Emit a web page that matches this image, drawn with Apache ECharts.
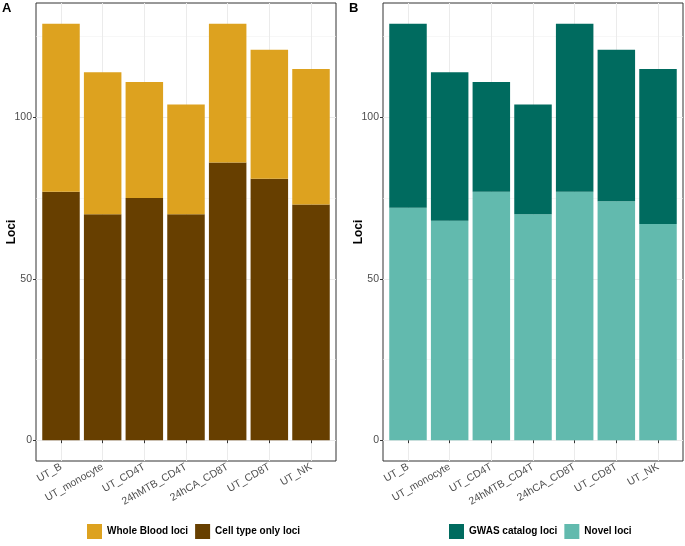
<!DOCTYPE html>
<html>
<head>
<meta charset="utf-8">
<script src="https://cdn.jsdelivr.net/npm/echarts@6/dist/echarts.min.js"></script>
<style>html,body{margin:0;padding:0;background:#fff}#c{width:685px;height:546px}</style>
</head>
<body>
<div id="c"></div>
<script>
const categories = ['UT_B','UT_monocyte','UT_CD4T','24hMTB_CD4T','24hCA_CD8T','UT_CD8T','UT_NK'];
const cellTypeOnly = [77, 70, 75, 70, 86, 81, 73];
const wholeBlood = [52, 44, 36, 34, 43, 40, 42];
const novel = [72, 68, 77, 70, 77, 74, 67];
const gwasCatalog = [57, 46, 34, 34, 52, 47, 48];
const yMajorTicks = [0, 50, 100];
const yMinorTicks = [25, 75, 125];
const catPositions = categories.map((c, i) => i + 1);

const FONT = 'Liberation Sans, Arial, sans-serif';
const yMin = -6.45, yMax = 135.45;
const xMin = 0.4, xMax = 7.6;
const panels = [{left: 36, width: 300}, {left: 383, width: 300}];
const TOP = 3, BOTTOM = 85;

const grids = [], xAxes = [], yAxes = [];
// outer frames (axes, gridlines, labels)
panels.forEach((p, i) => {
  grids.push({left: p.left, width: p.width, top: TOP, bottom: BOTTOM, show: true,
    borderColor: '#333', borderWidth: 1, backgroundColor: '#fff'});
  xAxes.push({
    type: 'value', gridIndex: i, min: xMin, max: xMax,
    axisLine: {show: false},
    axisTick: {show: true, length: 3, lineStyle: {color: '#333'}, customValues: catPositions},
    axisLabel: {rotate: 30, color: '#4d4d4d', fontFamily: FONT, fontSize: 10.5, margin: 5,
      customValues: catPositions, formatter: v => categories[Math.round(v) - 1] || ''},
    splitLine: {show: true, lineStyle: {color: '#ebebeb', width: 1}}
  });
  yAxes.push({
    type: 'value', gridIndex: i, min: yMin, max: yMax,
    name: 'Loci', nameLocation: 'middle', nameGap: 18, nameMoveOverlap: false,
    nameTextStyle: {fontFamily: FONT, fontWeight: 'bold', fontSize: 12, color: '#000'},
    axisLine: {show: false},
    axisTick: {show: true, length: 3, lineStyle: {color: '#333'}, customValues: yMajorTicks},
    axisLabel: {color: '#4d4d4d', fontFamily: FONT, fontSize: 10.5, margin: 4, customValues: yMajorTicks},
    splitLine: {show: true, lineStyle: {color: '#ebebeb', width: 1}}
  });
  yAxes.push({
    type: 'value', gridIndex: i, min: yMin, max: yMax,
    axisLine: {show: false}, axisLabel: {show: false},
    axisTick: {show: false, customValues: yMinorTicks},
    splitLine: {show: true, lineStyle: {color: '#f2f2f2', width: 0.6}}
  });
});
// inner grids for bars (category range 0.5..7.5 inside the 0.4..7.6 frame)
panels.forEach((p, i) => {
  const unit = p.width / (xMax - xMin);
  const off = (0.5 - xMin) * unit;
  grids.push({left: p.left + off, width: p.width - 2 * off, top: TOP, bottom: BOTTOM, show: false});
  xAxes.push({type: 'category', gridIndex: 2 + i, data: categories, show: false});
  yAxes.push({type: 'value', gridIndex: 2 + i, min: yMin, max: yMax, show: false});
});

function bar(name, values, color, gi, stack) {
  return {
    name: name, type: 'bar', stack: stack, data: values,
    xAxisIndex: 2 + gi, yAxisIndex: 4 + gi,
    barCategoryGap: '10%',
    itemStyle: {color: color},
    emphasis: {disabled: true}
  };
}

const legendText = {fontFamily: FONT, fontWeight: 'bold', fontSize: 10, color: '#000'};
const option = {
  animation: false,
  backgroundColor: '#fff',
  grid: grids,
  xAxis: xAxes,
  yAxis: yAxes,
  title: [
    {text: 'A', left: 2, top: 2, padding: 0, textStyle: {fontFamily: FONT, fontWeight: 'bold', fontSize: 13, color: '#000'}},
    {text: 'B', left: 349, top: 2, padding: 0, textStyle: {fontFamily: FONT, fontWeight: 'bold', fontSize: 13, color: '#000'}}
  ],
  legend: [
    {data: ['Whole Blood loci', 'Cell type only loci'], left: 87, top: 524, padding: 0,
     itemWidth: 15, itemHeight: 15, itemGap: 7, icon: 'rect', textStyle: legendText, selectedMode: false},
    {data: ['GWAS catalog loci', 'Novel loci'], left: 449, top: 524, padding: 0,
     itemWidth: 15, itemHeight: 15, itemGap: 7, icon: 'rect', textStyle: legendText, selectedMode: false}
  ],
  series: [
    bar('Cell type only loci', cellTypeOnly, '#673f00', 0, 'a'),
    bar('Whole Blood loci', wholeBlood, '#dda21f', 0, 'a'),
    bar('Novel loci', novel, '#62baae', 1, 'b'),
    bar('GWAS catalog loci', gwasCatalog, '#006b5f', 1, 'b')
  ]
};
const chart = echarts.init(document.getElementById('c'), null, {renderer: 'canvas'});
chart.setOption(option);
</script>
</body>
</html>
